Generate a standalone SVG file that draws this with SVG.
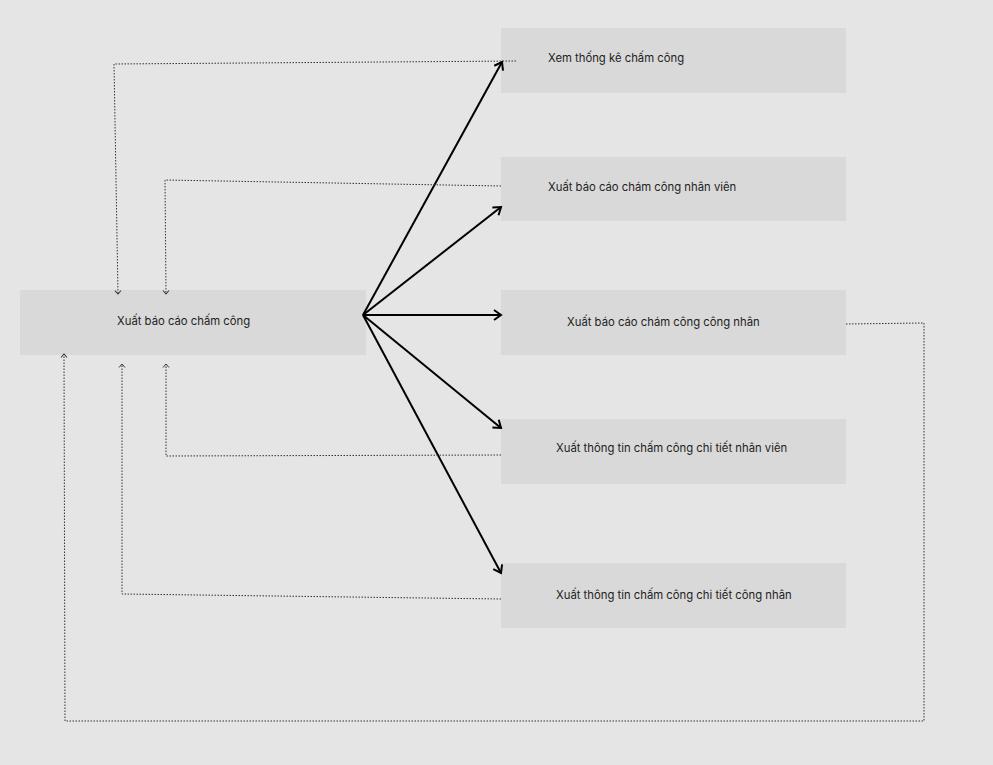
<svg xmlns="http://www.w3.org/2000/svg" width="993" height="765" viewBox="0 0 993 765">
  <style>
    .box { fill: #d9d9d9; }
    .lbl { font-family: Inter, "Noto Sans", "Liberation Sans", sans-serif; font-size: 11.3px; fill: #1e1e1e; dominant-baseline: central; }
    .solid { fill: none; stroke: #000; stroke-width: 2; }
    .dot { fill: none; stroke: #333; stroke-width: 1; stroke-dasharray: 1.5 1.5; }
  </style>
  <defs>
    <marker id="open" viewBox="0 0 12 12" refX="10" refY="6" markerWidth="12" markerHeight="12" markerUnits="userSpaceOnUse" orient="auto">
      <path d="M3,1 L10,6 L3,11" fill="none" stroke="#000" stroke-width="2"/>
    </marker>
    <marker id="small" viewBox="0 0 8 8" refX="6" refY="4" markerWidth="8" markerHeight="8" markerUnits="userSpaceOnUse" orient="auto">
      <path d="M2.5,1 L6,4 L2.5,7" fill="none" stroke="#333" stroke-width="1"/>
    </marker>
  </defs>
  <rect width="993" height="765" fill="#e5e5e5"/>

  <g id="main">
    <rect class="box" x="20" y="290" width="346" height="65"/>
    <text class="lbl" x="117" y="321">Xuất báo cáo chấm công</text>
  </g>
  <g id="thongke">
    <rect class="box" x="501" y="28" width="345" height="65"/>
    <text class="lbl" x="548" y="58">Xem thống kê chấm công</text>
  </g>
  <g id="bc-nhanvien">
    <rect class="box" x="501" y="157" width="345" height="64"/>
    <text class="lbl" x="548" y="187">Xuất báo cáo chám công nhân viên</text>
  </g>
  <g id="bc-congnhan">
    <rect class="box" x="501" y="290" width="345" height="65"/>
    <text class="lbl" x="567" y="322">Xuất báo cáo chám công công nhân</text>
  </g>
  <g id="ct-nhanvien">
    <rect class="box" x="501" y="419" width="345" height="65"/>
    <text class="lbl" x="556" y="448">Xuất thông tin chấm công chi tiết nhân viên</text>
  </g>
  <g id="ct-congnhan">
    <rect class="box" x="501" y="563" width="345" height="65"/>
    <text class="lbl" x="556" y="595">Xuất thông tin chấm công chi tiết công nhân</text>
  </g>

  <g id="connectors">
    <path class="solid" d="M363,315 L502,62" marker-end="url(#open)"/>
    <path class="solid" d="M363,315 L501,207" marker-end="url(#open)"/>
    <path class="solid" d="M363,315 L501,315" marker-end="url(#open)"/>
    <path class="solid" d="M363,315 L501,428" marker-end="url(#open)"/>
    <path class="solid" d="M363,315 L501,573" marker-end="url(#open)"/>

    <path class="dot" d="M516,61 L114,64 L118,294" marker-end="url(#small)"/>
    <path class="dot" d="M501,186 L165,180 L166,294" marker-end="url(#small)"/>
    <path class="dot" d="M846,324 L924,323 L924,721 L65,721 L64,354" marker-end="url(#small)"/>
    <path class="dot" d="M501,455 L166,456 L166,364" marker-end="url(#small)"/>
    <path class="dot" d="M501,599 L122,594 L122,364" marker-end="url(#small)"/>
  </g>
</svg>
